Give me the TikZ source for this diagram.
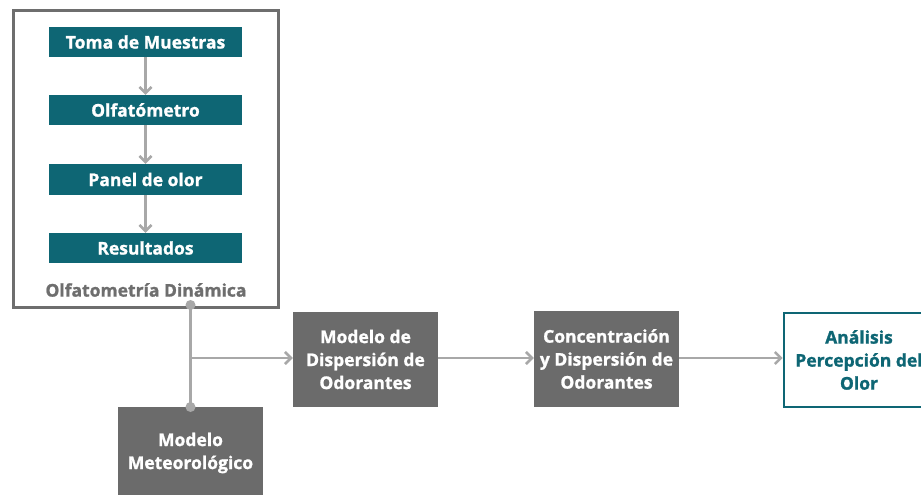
\documentclass[tikz,border=0pt]{standalone}
\usepackage{fontspec}
\setmainfont{Open Sans}[BoldFeatures={FakeBold=1.2}]
\usetikzlibrary{arrows.meta}
\definecolor{teal1}{HTML}{0E6674}
\definecolor{dgray}{HTML}{6B6B6B}
\definecolor{lgray}{HTML}{A8A8A8}
\definecolor{bgray}{HTML}{6E6E6E}
\tikzset{
  tealbox/.style={fill=teal1,text=white,font=\fontsize{17.5}{20}\selectfont\bfseries,inner sep=0pt},
  graybox/.style={fill=dgray,text=white,font=\fontsize{17.5}{23}\selectfont\bfseries,align=center,inner sep=0pt},
  conn/.style={draw=lgray,line width=2.6pt},
  arr/.style={conn,-{Straight Barb[length=6pt,width=12pt,line width=2.6pt]}},
  dot/.style={circle,fill=lgray,minimum size=10pt,inner sep=0pt}
}
\begin{document}
\begin{tikzpicture}[x=1pt,y=-1pt]
\useasboundingbox (0,0) rectangle (921,495);
\begin{scope}
\clip (0,0) rectangle (921,495);
% outer box
\node[draw=bgray,line width=2.8pt,minimum width=265pt,minimum height=297pt,inner sep=0pt] (outer) at (146,159) {};
\node[tealbox,minimum width=193pt,minimum height=30pt] (t1) at (145.5,42) {Toma de Muestras};
\node[tealbox,minimum width=193pt,minimum height=30pt] (t2) at (145.5,110) {Olfatómetro};
\node[tealbox,minimum width=193pt,minimum height=31pt] (t3) at (145.5,179.5) {Panel de olor};
\node[tealbox,minimum width=193pt,minimum height=30pt] (t4) at (145.5,248) {Resultados};
\node[text=bgray,font=\fontsize{17.5}{20}\selectfont\bfseries,inner sep=0pt] (lab) at (146,290) {Olfatometría Dinámica};
\draw[arr] (t1.south) -- (t2.north);
\draw[arr] (t2.south) -- (t3.north);
\draw[arr] (t3.south) -- (t4.north);
% lower part
\node[graybox,minimum width=145pt,minimum height=95pt] (disp) at (365.5,359.5) {Modelo de\\Dispersión de\\Odorantes};
\node[graybox,minimum width=145pt,minimum height=96pt] (conc) at (606.5,359) {Concentración\\y Dispersión de\\Odorantes};
\node[draw=teal1,fill=white,line width=2.6pt,text=teal1,font=\fontsize{17.5}{23}\selectfont\bfseries,align=center,minimum width=150pt,minimum height=94pt,inner sep=0pt] (anal) at (859,360) {Análisis\\Percepción del\\Olor};
\node[fill=dgray,minimum width=145pt,minimum height=100pt,inner sep=0pt] (met) at (190.5,457) {};
\node[text=white,font=\fontsize{17.5}{23}\selectfont\bfseries,align=center,inner sep=0pt] (mettext) at (190.5,453) {Modelo\\Meteorológico};
\coordinate (top) at (190.5,305);
\coordinate (bot) at (190.5,407);
\coordinate (br) at (190.5,358);
\draw[conn] (top) -- (bot);
\draw[arr] (br) -- (disp.west |- br);
\draw[arr] (disp.east |- br) -- (conc.west |- br);
\draw[arr] (conc.east |- br) -- (anal.west |- br);
\node[dot] (d1) at (top) {};
\node[dot] (d2) at (bot) {};
\end{scope}
\end{tikzpicture}
\end{document}
